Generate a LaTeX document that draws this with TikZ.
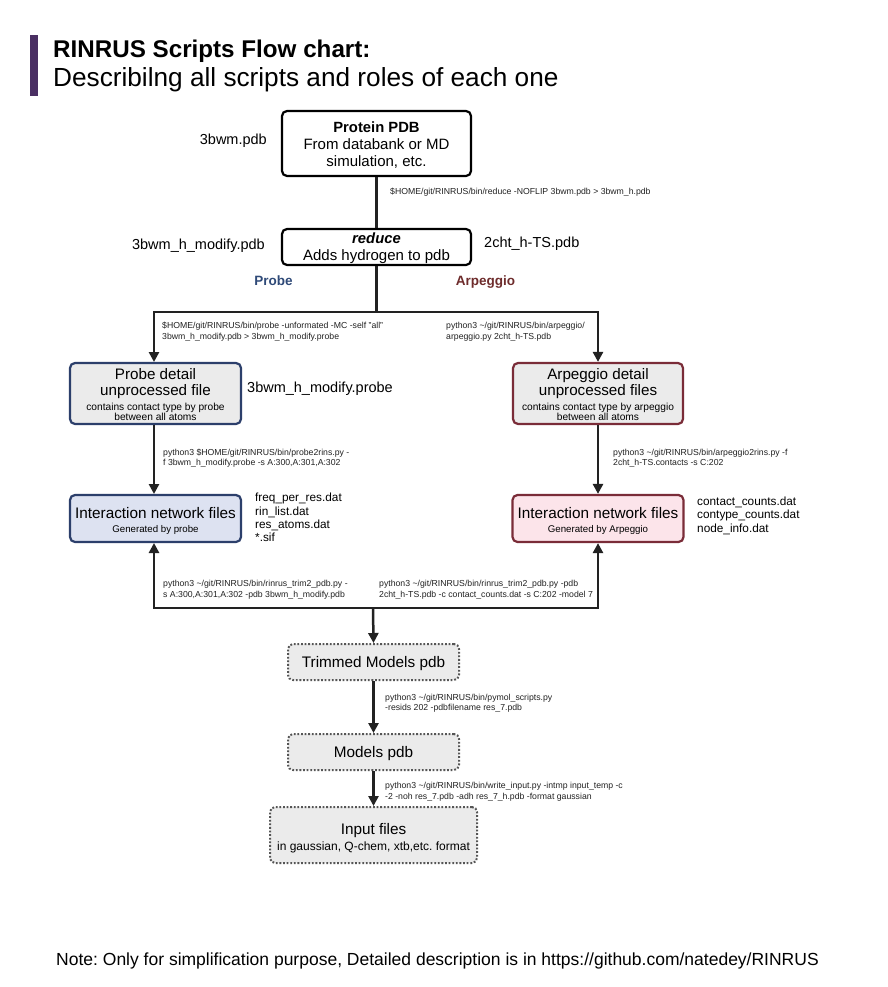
\documentclass[tikz,border=0pt]{standalone}
\usepackage{fontspec}
\setmainfont{Liberation Sans}
\usetikzlibrary{arrows.meta}
\frenchspacing
\definecolor{titlebar}{HTML}{4A2F63}
\definecolor{probeblue}{HTML}{2C3F6B}
\definecolor{arpred}{HTML}{7A2C38}
\definecolor{probetxt}{HTML}{2F4A78}
\definecolor{arptxt}{HTML}{6E2C2C}
\definecolor{boxgray}{HTML}{EBEBEB}
\definecolor{lightblue}{HTML}{DDE2F1}
\definecolor{lightpink}{HTML}{FCE4EA}
\definecolor{dotgray}{HTML}{555555}
\definecolor{linegray}{HTML}{222222}
\tikzset{
  fs/.style={font=\fontsize{#1}{#1}\selectfont},
  box/.style={draw=black, line width=2.2pt, rounded corners=5pt, fill=white, inner sep=0pt},
  pbox/.style={draw=probeblue, line width=2.2pt, rounded corners=5pt, inner sep=0pt},
  abox/.style={draw=arpred, line width=2.2pt, rounded corners=5pt, inner sep=0pt},
  dbox/.style={draw=dotgray, line width=2pt, dash pattern=on 1.8pt off 1.8pt, rounded corners=5pt, fill=boxgray, inner sep=0pt},
  txt/.style={inner sep=0pt, anchor=mid},
  ltxt/.style={inner sep=0pt, anchor=mid west},
  cmd/.style={inner sep=0pt, anchor=mid west, fs=8.7, text=linegray},
  conn/.style={draw=linegray, line width=2.5pt},
  arr/.style={conn, -{Triangle[width=10pt,length=10pt]}},
}
\begin{document}
\begin{tikzpicture}[x=1pt,y=-1pt]
\useasboundingbox (0,0) rectangle (888,987);
\fill[white] (0,0) rectangle (888,987);
% title
\fill[titlebar] (30,35) rectangle (38,96);
\node[inner sep=0pt, anchor=base west, font=\fontsize{24.2}{24}\selectfont\bfseries] (t1) at (53,58) {RINRUS Scripts Flow chart:};
\node[inner sep=0pt, anchor=base west, fs=26.2] (t2) at (53,87) {Describilng all scripts and roles of each one};
% boxes
\node[box, minimum width=189pt, minimum height=65pt] (prot) at (376.5,143.5) {};
\node[txt, font=\fontsize{14.8}{15}\selectfont\bfseries] (prot1) at (376.5,130) {Protein PDB};
\node[txt, fs=15] (prot2) at (376.5,147) {From databank or MD};
\node[txt, fs=15] (prot3) at (376.5,164) {simulation, etc.};
\node[inner sep=0pt, anchor=mid east, fs=14.5] (f0) at (267,142) {3bwm.pdb};

\node[box, minimum width=189pt, minimum height=36pt] (red) at (376.5,247) {};
\node[txt, font=\fontsize{14.8}{15}\selectfont\bfseries\itshape] (red1) at (376.5,240.5) {reduce};
\node[txt, fs=15] (red2) at (376.5,258) {Adds hydrogen to pdb};
\node[inner sep=0pt, anchor=mid east, fs=14.5] (f1) at (265,247) {3bwm\_h\_modify.pdb};
\node[ltxt, fs=14.5] (f2) at (484,245) {2cht\_h-TS.pdb};
\node[txt, font=\fontsize{13.5}{13}\selectfont\bfseries, text=probetxt] (lp) at (273.5,282.5) {Probe};
\node[txt, font=\fontsize{13.5}{13}\selectfont\bfseries, text=arptxt] (la) at (485.5,282.5) {Arpeggio};

\node[pbox, fill=boxgray, minimum width=171pt, minimum height=61pt] (pdet) at (155.5,393.5) {};
\node[txt, fs=15.2] (pd1) at (155.5,377) {Probe detail};
\node[txt, fs=15.2] (pd2) at (155.5,393) {unprocessed file};
\node[txt, fs=10.2] (pd3) at (155.5,407.5) {contains contact type by probe};
\node[txt, fs=10.2] (pd4) at (155.5,417.5) {between all atoms};
\node[ltxt, fs=14.5] (f3) at (247,390) {3bwm\_h\_modify.probe};

\node[abox, fill=boxgray, minimum width=170pt, minimum height=61pt] (adet) at (598,393.5) {};
\node[txt, fs=15.2] (ad1) at (598,377) {Arpeggio detail};
\node[txt, fs=15.2] (ad2) at (598,393) {unprocessed files};
\node[txt, fs=10.2] (ad3) at (598,407.5) {contains contact type by arpeggio};
\node[txt, fs=10.2] (ad4) at (598,417.5) {between all atoms};

\node[pbox, fill=lightblue, minimum width=171pt, minimum height=47pt] (pint) at (155.5,518.5) {};
\node[txt, fs=15.3] (pi1) at (155.5,516) {Interaction network files};
\node[txt, fs=9.7] (pi2) at (155.5,530) {Generated by probe};
\node[ltxt, fs=11.8] (pf1) at (255,499) {freq\_per\_res.dat};
\node[ltxt, fs=11.8] (pf2) at (255,513) {rin\_list.dat};
\node[ltxt, fs=11.8] (pf3) at (255,526) {res\_atoms.dat};
\node[ltxt, fs=11.8] (pf4) at (255,539) {*.sif};

\node[abox, fill=lightpink, minimum width=171pt, minimum height=47pt] (aint) at (598,518.5) {};
\node[txt, fs=15.3] (ai1) at (598,516) {Interaction network files};
\node[txt, fs=9.7] (ai2) at (598,530) {Generated by Arpeggio};
\node[ltxt, fs=11.8] (af1) at (697,503) {contact\_counts.dat};
\node[ltxt, fs=11.8] (af2) at (697,516) {contype\_counts.dat};
\node[ltxt, fs=11.8] (af3) at (697,530) {node\_info.dat};

\node[dbox, minimum width=171pt, minimum height=36pt] (trim) at (373.5,662) {};
\node[txt, fs=15.3] (tr1) at (373.5,665) {Trimmed Models pdb};
\node[dbox, minimum width=171pt, minimum height=36pt] (mod) at (373.5,752) {};
\node[txt, fs=15.3] (mo1) at (373.5,755) {Models pdb};
\node[dbox, minimum width=207pt, minimum height=56pt] (inp) at (373.5,835) {};
\node[txt, fs=15.3] (in1) at (373.5,832) {Input files};
\node[txt, fs=12] (in2) at (373.5,848) {in gaussian, Q-chem, xtb,etc. format};

% commands
\node[cmd] (c1) at (390,191.5) {\$HOME/git/RINRUS/bin/reduce -NOFLIP 3bwm.pdb > 3bwm\_h.pdb};
\node[cmd] (c2a) at (162,325.5) {\$HOME/git/RINRUS/bin/probe -unformated -MC -self "all"};
\node[cmd] (c2b) at (162,336.5) {3bwm\_h\_modify.pdb > 3bwm\_h\_modify.probe};
\node[cmd] (c3a) at (446,325.5) {python3 \textasciitilde/git/RINRUS/bin/arpeggio/};
\node[cmd] (c3b) at (446,336.5) {arpeggio.py 2cht\_h-TS.pdb};
\node[cmd] (c4a) at (163,452.5) {python3 \$HOME/git/RINRUS/bin/probe2rins.py -};
\node[cmd] (c4b) at (163,462.5) {f 3bwm\_h\_modify.probe -s A:300,A:301,A:302};
\node[cmd] (c5a) at (613,452.5) {python3 \textasciitilde/git/RINRUS/bin/arpeggio2rins.py -f};
\node[cmd] (c5b) at (613,462.5) {2cht\_h-TS.contacts -s C:202};
\node[cmd] (c6a) at (163,583.5) {python3 \textasciitilde/git/RINRUS/bin/rinrus\_trim2\_pdb.py -};
\node[cmd] (c6b) at (163,594.5) {s A:300,A:301,A:302 -pdb 3bwm\_h\_modify.pdb};
\node[cmd] (c7a) at (379,583.5) {python3 \textasciitilde/git/RINRUS/bin/rinrus\_trim2\_pdb.py -pdb};
\node[cmd] (c7b) at (379,594.5) {2cht\_h-TS.pdb -c contact\_counts.dat -s C:202 -model 7};
\node[cmd] (c8a) at (385,697.5) {python3 \textasciitilde/git/RINRUS/bin/pymol\_scripts.py};
\node[cmd] (c8b) at (385,707.5) {-resids 202 -pdbfilename res\_7.pdb};
\node[cmd] (c9a) at (385,785.5) {python3 \textasciitilde/git/RINRUS/bin/write\_input.py -intmp input\_temp -c};
\node[cmd] (c9b) at (385,796.5) {-2 -noh res\_7.pdb -adh res\_7\_h.pdb -format gaussian};

% connectors
\draw[conn] (prot.south) -- (red.north);
\coordinate (split) at (376.5,312);
\draw[conn] (red.south) -- (split);
\draw[arr] (split) -| (154,312) -- (154,362);
\draw[arr] (split) -| (adet.north);
\draw[arr] (154,424.5) -- (154,494);
\draw[arr] (adet.south) -- (aint.north);
\coordinate (merge) at (373,608);
\draw[arr] (merge) -| (154,543);
\draw[arr] (merge) -| (aint.south);
\draw[arr] (merge) -- (trim.north);
\draw[arr] (trim.south) -- (mod.north);
\draw[arr] (mod.south) -- (inp.north);

% note
\node[txt, fs=17.5] (note) at (437.5,963) {Note: Only for simplification purpose, Detailed description is in https://github.com/natedey/RINRUS};
\end{tikzpicture}
\end{document}
